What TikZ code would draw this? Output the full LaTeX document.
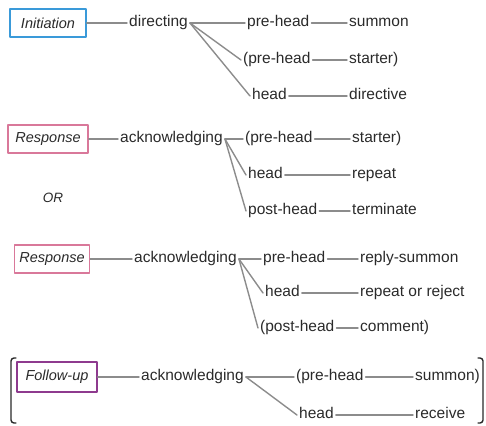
\documentclass[tikz,border=0pt]{standalone}
\usepackage{fontspec}
\setmainfont{Liberation Sans}
\definecolor{txtgray}{HTML}{2A2A2A}
\definecolor{linegray}{HTML}{8C8C8C}
\definecolor{iniblue}{HTML}{3A9AD9}
\definecolor{respink}{HTML}{D9789A}
\definecolor{folpurple}{HTML}{8E3A8E}
\begin{document}
\begin{tikzpicture}[x=1pt, y=-1pt, line cap=round, line join=round,
    every node/.style={font=\fontsize{15.5}{18}\selectfont, text=txtgray},
    lbl/.style={anchor=west, inner sep=2pt, text height=1.5ex, text depth=0.35ex},
    move/.style={draw=#1, line width=1.6pt, minimum height=28pt, inner sep=0pt,
      font=\fontsize{14.5}{17}\selectfont\itshape},
    link/.style={draw=linegray, line width=1.4pt}]
  \useasboundingbox (0,0) rectangle (486,425);

  % Initiation
  \node[move=iniblue, minimum width=76pt] (ini) at (48,23) {Initiation};
  \node[lbl] (dir) at (127,23) {directing};
  \node[lbl] (phA) at (245,23) {pre-head};
  \node[lbl] (phB) at (241,60) {(pre-head};
  \node[lbl] (hdA) at (250,96) {head};
  \node[lbl] (sumA) at (347,23) {summon};
  \node[lbl] (stA) at (347,60) {starter)};
  \node[lbl] (dvA) at (347,96) {directive};
  \draw[link] (ini) -- (dir);
  \draw[link] (dir.east) -- (phA.west);
  \draw[link] (dir.east) -- (phB.west);
  \draw[link] (dir.east) -- (hdA.west);
  \draw[link] (phA) -- (sumA);
  \draw[link] (phB) -- (stA);
  \draw[link] (hdA) -- (dvA);

  % Response (first)
  \node[move=respink, minimum width=80pt] (resA) at (48,139) {Response};
  \node[lbl] (ackA) at (118,139) {acknowledging};
  \node[lbl] (phC) at (243,139) {(pre-head};
  \node[lbl] (hdB) at (246,175) {head};
  \node[lbl] (pstA) at (246,211) {post-head};
  \node[lbl] (stB) at (350,139) {starter)};
  \node[lbl] (rpA) at (350,175) {repeat};
  \node[lbl] (tmA) at (350,211) {terminate};
  \draw[link] (resA) -- (ackA);
  \draw[link] (ackA.east) -- (phC.west);
  \draw[link] (ackA.east) -- (hdB.west);
  \draw[link] (ackA.east) -- (pstA.west);
  \draw[link] (phC) -- (stB);
  \draw[link] (hdB) -- (rpA);
  \draw[link] (pstA) -- (tmA);
  \node[font=\fontsize{13.5}{16}\selectfont\itshape] (orA) at (53,198) {OR};

  % Response (second)
  \node[move=respink, minimum width=75pt] (resB) at (52,259) {Response};
  \node[lbl] (ackB) at (132,259) {acknowledging};
  \node[lbl] (phD) at (261,259) {pre-head};
  \node[lbl] (hdC) at (263,293) {head};
  \node[lbl] (pstB) at (258,328) {(post-head};
  \node[lbl] (rsA) at (358,259) {reply-summon};
  \node[lbl] (rrA) at (358,293) {repeat or reject};
  \node[lbl] (cmA) at (358,328) {comment)};
  \draw[link] (resB) -- (ackB);
  \draw[link] (ackB.east) -- (phD.west);
  \draw[link] (ackB.east) -- (hdC.west);
  \draw[link] (ackB.east) -- (pstB.west);
  \draw[link] (phD) -- (rsA);
  \draw[link] (hdC) -- (rrA);
  \draw[link] (pstB) -- (cmA);

  % Follow-up
  \node[move=folpurple, minimum width=80pt, minimum height=30pt] (fol) at (57,377) {Follow-up};
  \node[lbl] (ackC) at (139,377) {acknowledging};
  \node[lbl] (phE) at (294,377) {(pre-head};
  \node[lbl] (hdD) at (297,415) {head};
  \node[lbl] (sumB) at (413,377) {summon)};
  \node[lbl] (rcA) at (413,415) {receive};
  \draw[link] (fol) -- (ackC);
  \draw[link] (ackC.east) -- (phE.west);
  \draw[link] (ackC.east) -- (hdD.west);
  \draw[link] (phE) -- (sumB);
  \draw[link] (hdD) -- (rcA);

  % Brackets
  \draw[txtgray, line width=1.4pt, rounded corners=3pt] (16,358) -- (11,358) -- (11,423) -- (16,423);
  \draw[txtgray, line width=1.4pt, rounded corners=3pt] (478,358) -- (483,358) -- (483,423) -- (478,423);
\end{tikzpicture}
\end{document}
